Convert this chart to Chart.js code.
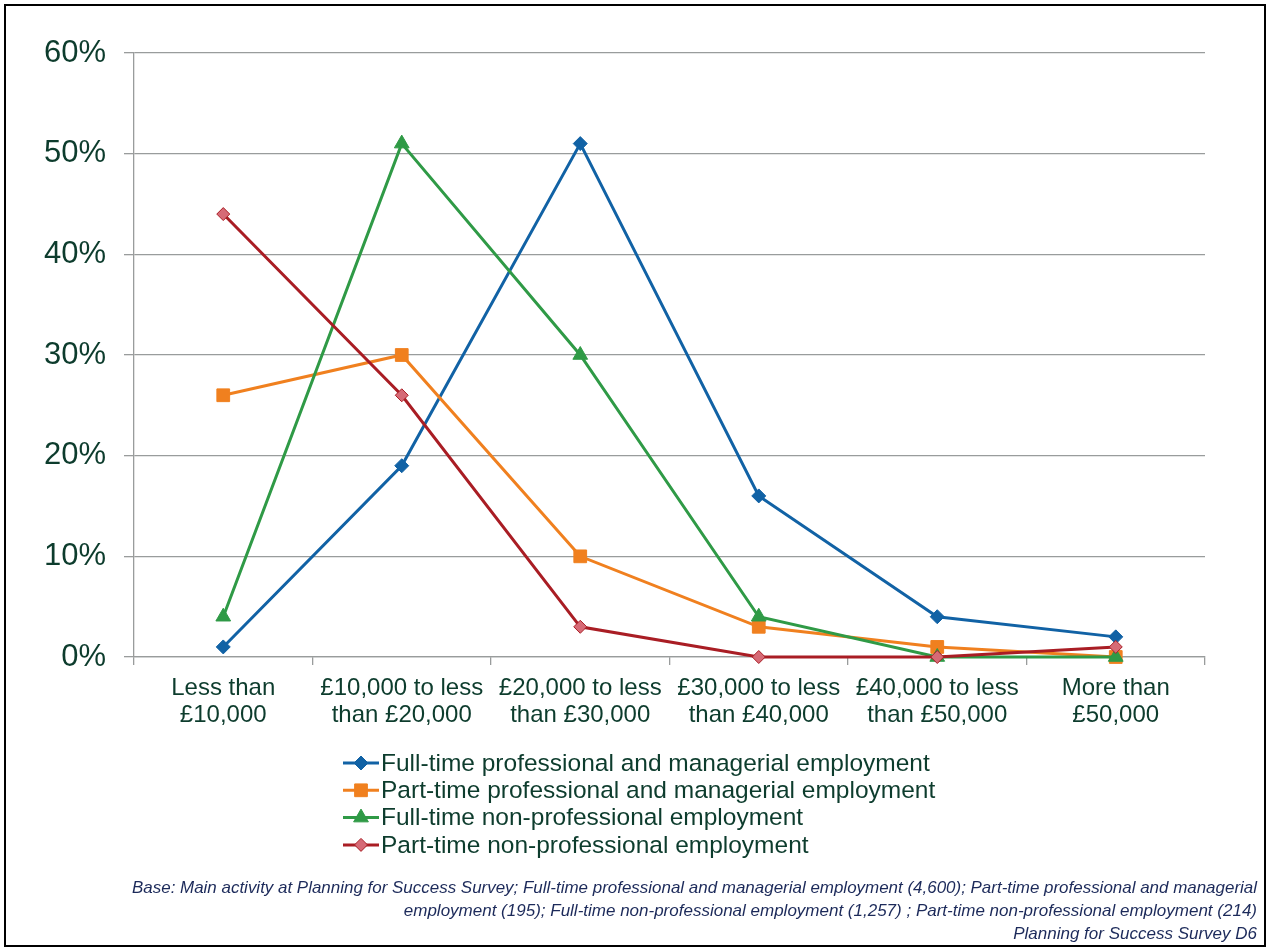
<!DOCTYPE html>
<html lang="en">
<head>
<meta charset="UTF-8">
<title>Salary by main activity</title>
<script src="https://cdn.jsdelivr.net/npm/chart.js"></script>
<style>
  html, body { margin: 0; padding: 0; background: #fff; }
</style>
</head>
<body>
<canvas id="salaryChart" width="1267" height="949"></canvas>
<script>
// salary bands (x axis), two-line labels
const bands = [
    ['Less than', '£10,000'],
    ['£10,000 to less', 'than £20,000'],
    ['£20,000 to less', 'than £30,000'],
    ['£30,000 to less', 'than £40,000'],
    ['£40,000 to less', 'than £50,000'],
    ['More than', '£50,000']
];

const seriesNames = [
    'Full-time professional and managerial employment',
    'Part-time professional and managerial employment',
    'Full-time non-professional employment',
    'Part-time non-professional employment'
];

// percentages per band
const ftProf    = [1, 19, 51, 16, 4, 2];
const ptProf    = [26, 30, 10, 3, 1, 0];
const ftNonProf = [4, 51, 30, 4, 0, 0];
const ptNonProf = [44, 26, 3, 0, 0, 1];

const yTicks = [0, 10, 20, 30, 40, 50, 60];

const footnote = [
    'Base: Main activity at Planning for Success Survey; Full-time professional and managerial employment (4,600); Part-time professional and managerial',
    'employment (195); Full-time non-professional employment (1,257) ; Part-time non-professional employment (214)',
    'Planning for Success Survey D6'
];

const textColor = '#0d3c2d';
const gridColor = '#999c9c';

Chart.defaults.font.family = '"Liberation Sans", Arial, sans-serif';
Chart.defaults.color = textColor;

function series(label, data, color, style, radius, order, fill, border) {
    return {
        label: label,
        data: data,
        borderColor: color,
        backgroundColor: color,
        borderWidth: 3,
        tension: 0,
        pointStyle: style,
        pointRadius: radius,
        pointBackgroundColor: fill || color,
        pointBorderColor: border || color,
        pointBorderWidth: 1,
        clip: false,
        order: order
    };
}

// legend: short line with the marker on it, one row per series
const lineLegend = {
    id: 'lineLegend',
    afterDraw(chart) {
        const ctx = chart.ctx;
        ctx.save();
        ctx.textBaseline = 'middle';
        chart.data.datasets.forEach((ds, i) => {
            const y = 763 + i * 27.3;
            ctx.strokeStyle = ds.borderColor;
            ctx.lineWidth = 3;
            ctx.beginPath();
            ctx.moveTo(343, y);
            ctx.lineTo(379, y);
            ctx.stroke();
            ctx.fillStyle = ds.pointBackgroundColor;
            ctx.strokeStyle = ds.pointBorderColor;
            ctx.lineWidth = 1;
            Chart.helpers.drawPoint(ctx, {
                pointStyle: ds.pointStyle,
                radius: ds.pointRadius,
                borderWidth: 1,
                rotation: 0
            }, 361, y);
            ctx.fillStyle = textColor;
            ctx.font = '24.5px "Liberation Sans", Arial, sans-serif';
            ctx.textAlign = 'left';
            ctx.fillText(ds.label, 381, y + 1);
        });

        // source note
        ctx.fillStyle = '#1c2a5a';
        ctx.font = 'italic 17px "Liberation Sans", Arial, sans-serif';
        ctx.textAlign = 'right';
        footnote.forEach((t, i) => ctx.fillText(t, 1257, 888 + i * 23, 1125));

        // outer frame
        ctx.strokeStyle = '#000';
        ctx.lineWidth = 2;
        ctx.strokeRect(5, 5, 1260, 941);
        ctx.restore();
    }
};

new Chart(document.getElementById('salaryChart'), {
    type: 'line',
    data: {
        labels: bands,
        datasets: [
            series(seriesNames[0], ftProf, '#1162a5', 'rectRot', 7, 3),
            series(seriesNames[1], ptProf, '#f0801f', 'rect', 9, 2),
            series(seriesNames[2], ftNonProf, '#2f9a46', 'triangle', 8.5, 1),
            series(seriesNames[3], ptNonProf, '#a91d24', 'rectRot', 6.5, 0, '#d66a76', '#a91d24')
        ]
    },
    options: {
        responsive: false,
        animation: false,
        events: [],
        layout: { padding: { top: 53, right: 62, bottom: 212, left: 0 } },
        plugins: {
            legend: { display: false },
            tooltip: { enabled: false }
        },
        scales: {
            x: {
                offset: true,
                afterFit: s => { s.height = 80; },
                grid: {
                    offset: true,
                    drawOnChartArea: false,
                    tickLength: 8,
                    color: gridColor,
                    lineWidth: 1.3
                },
                border: { color: gridColor, width: 1.3 },
                ticks: {
                    padding: 10,
                    maxRotation: 0,
                    autoSkip: false,
                    font: { size: 24, lineHeight: '27px' }
                }
            },
            y: {
                min: 0,
                max: 60,
                afterFit: s => { s.width = 134; },
                afterBuildTicks: s => { s.ticks = yTicks.map(v => ({ value: v })); },
                grid: { color: gridColor, tickLength: 10, lineWidth: 1.3 },
                border: { color: gridColor, width: 1.3 },
                ticks: {
                    padding: 18,
                    font: { size: 31 },
                    callback: v => v + '%'
                }
            }
        }
    },
    plugins: [lineLegend]
});
</script>
</body>
</html>
